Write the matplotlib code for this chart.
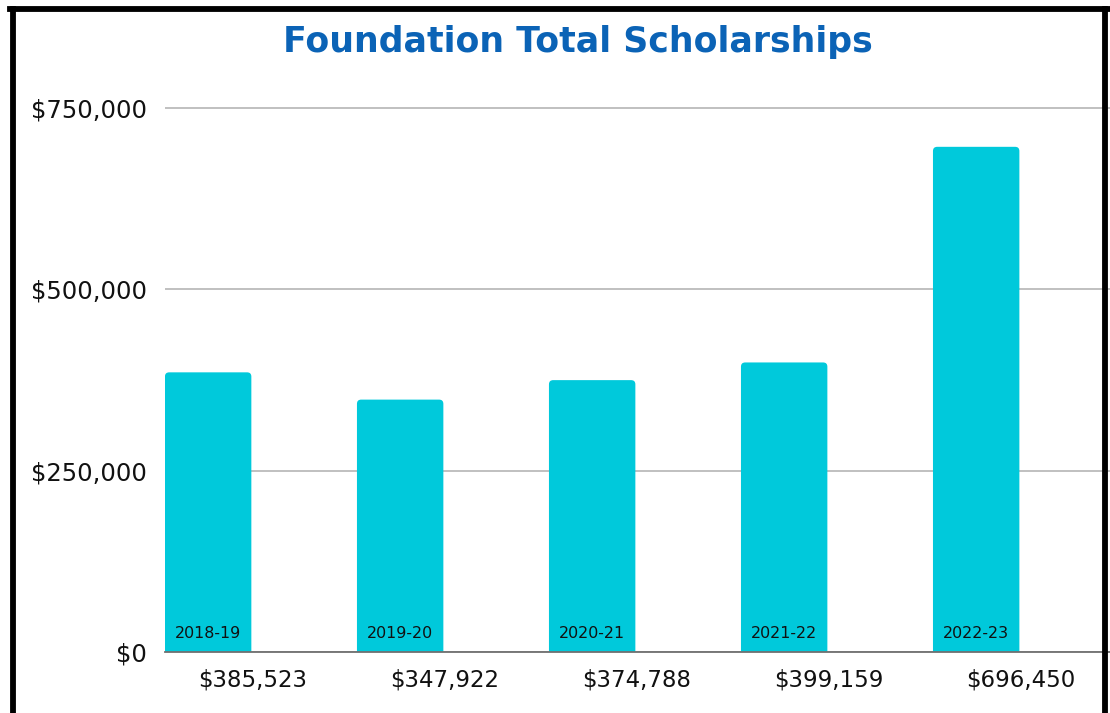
import matplotlib.pyplot as plt
from matplotlib.patches import FancyBboxPatch
from matplotlib.lines import Line2D
from matplotlib.ticker import FuncFormatter

# данные
years = ['2018-19', '2019-20', '2020-21', '2021-22', '2022-23']
totals = [385523, 347922, 374788, 399159, 696450]
yticks = [0, 250000, 500000, 750000]

bar_color = '#00C9DB'
title_color = '#0B63B6'

plt.rcParams['font.family'] = ['DejaVu Sans']

fig = plt.figure(figsize=(11.1, 7.13), dpi=100)
ax = fig.add_axes([0.1486, 0.0856, 0.8514, 0.7833])

ax.set_xlim(-0.225, 4.697)
ax.set_ylim(0, 770000)

# столбцы со скруглёнными верхними углами
width = 0.45
aspect = (250000 / 181.33) * 192
for i, v in enumerate(totals):
    p = FancyBboxPatch((i - width / 2, -30000), width, v + 30000,
                       boxstyle='round,pad=0,rounding_size=0.022',
                       mutation_aspect=aspect,
                       facecolor=bar_color, edgecolor='none', zorder=2)
    ax.add_patch(p)
    ax.text(i, 24800, years[i], ha='center', va='center',
            fontsize=11.4, color='#111111', zorder=3)
    ax.text(i + 0.23, -38000, f'${v:,}', ha='center', va='center',
            fontsize=16.5, color='#111111', clip_on=False)

ax.set_yticks(yticks)
ax.yaxis.set_major_formatter(FuncFormatter(lambda y, _: f'${int(y):,}'))
ax.tick_params(axis='y', length=0, pad=13, labelsize=17.5, labelcolor='#111111')
ax.set_xticks([])
ax.grid(axis='y', color='#C0C0C0', linewidth=1.4, zorder=0)
ax.set_axisbelow(True)
for s in ['top', 'right', 'left']:
    ax.spines[s].set_visible(False)
ax.spines['bottom'].set_color('#707070')
ax.spines['bottom'].set_linewidth(1.3)
ax.spines['bottom'].set_zorder(4)

fig.text(0.521, 1 - 42 / 713, 'Foundation Total Scholarships', ha='center', va='center',
         fontsize=25, fontweight='bold', color=title_color)

# чёрная рамка (слева, сверху, справа)
fx = lambda px: px / 1110
fy = lambda py: 1 - py / 713
for xs, ys in [([fx(12.5), fx(12.5)], [fy(8.5), fy(720)]),
               ([fx(10), fx(1108)], [fy(8.5), fy(8.5)]),
               ([fx(1105), fx(1105)], [fy(8.5), fy(720)])]:
    fig.add_artist(Line2D(xs, ys, color='black', linewidth=4.2, solid_capstyle='projecting'))

fig.savefig('out.png', dpi=100)
